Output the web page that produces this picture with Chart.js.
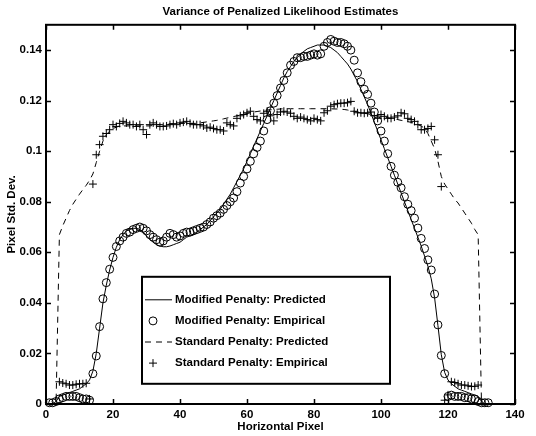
<!DOCTYPE html>
<html>
<head>
<meta charset="utf-8">
<script src="https://cdn.jsdelivr.net/npm/chart.js@4.4.1/dist/chart.umd.min.js"></script>
<style>
html,body{margin:0;padding:0;background:#fff;}
#wrap{width:536px;height:436px;}
</style>
</head>
<body>
<div id="wrap"><canvas id="c" width="536" height="436"></canvas></div>
<script>
// ---- data ----
const chartTitle = 'Variance of Penalized Likelihood Estimates';
const xTitle = 'Horizontal Pixel';
const yTitle = 'Pixel Std. Dev.';
const xTicks = [0, 20, 40, 60, 80, 100, 120, 140];
const yTicks = [0, 0.02, 0.04, 0.06, 0.08, 0.1, 0.12, 0.14];
const yTickLabels = ['0', '0.02', '0.04', '0.06', '0.08', '0.1', '0.12', '0.14'];
const seriesNames = ['Modified Penalty: Predicted', 'Modified Penalty: Empirical',
                     'Standard Penalty: Predicted', 'Standard Penalty: Empirical'];
const firstPixel = 1, pixelCount = 132;

const modPred = [
0.000,0.000,0.001,0.003,0.0035,0.004,0.0045,0.005,0.0055,0.006,
0.007,0.008,0.0095,0.013,0.020,0.030,0.040,0.047,0.053,0.058,
0.062,0.065,0.067,0.0685,0.069,0.0695,0.0695,0.069,0.068,0.0665,
0.065,0.064,0.063,0.0625,0.0622,0.0622,0.0625,0.063,0.0635,0.064,
0.065,0.066,0.0665,0.067,0.068,0.069,0.070,0.071,0.0725,0.074,
0.0755,0.077,0.079,0.081,0.083,0.0855,0.088,0.0905,0.093,0.096,
0.099,0.102,0.105,0.108,0.111,0.114,0.117,0.120,0.123,0.126,
0.129,0.1315,0.1335,0.1355,0.137,0.1385,0.1395,0.1405,0.141,0.1415,
0.142,0.142,0.142,0.1415,0.141,0.140,0.139,0.1375,0.136,0.1345,
0.1325,0.130,0.1275,0.1245,0.1215,0.1185,0.115,0.1115,0.108,0.1045,
0.101,0.0975,0.094,0.0905,0.087,0.0835,0.080,0.0765,0.073,0.0695,
0.066,0.0625,0.0585,0.0545,0.0495,0.042,0.031,0.0195,0.0125,0.0095,
0.008,0.007,0.006,0.0055,0.005,0.0045,0.004,0.0035,0.003,0.001,
0.000,0.000];

const modEmp = [
0.0005,0.0005,0.001,0.002,0.0025,0.003,0.003,0.003,0.003,0.0025,
0.002,0.002,0.0015,0.012,0.019,0.0306,0.0416,0.048,0.0533,0.058,
0.0623,0.0645,0.066,0.0675,0.068,0.069,0.0695,0.070,0.0695,0.0685,
0.067,0.066,0.065,0.064,0.0645,0.066,0.0675,0.067,0.066,0.0665,
0.0675,0.068,0.068,0.0685,0.069,0.0695,0.070,0.071,0.072,0.0735,
0.0745,0.0755,0.077,0.0785,0.080,0.0815,0.084,0.0874,0.090,0.093,
0.096,0.099,0.1015,0.104,0.108,0.1125,0.116,0.119,0.122,0.125,
0.128,0.131,0.134,0.1355,0.137,0.137,0.1375,0.1375,0.138,0.1385,
0.138,0.1385,0.1415,0.143,0.1442,0.1435,0.143,0.143,0.1425,0.1415,
0.140,0.136,0.131,0.1275,0.1245,0.1225,0.119,0.1155,0.112,0.108,
0.104,0.099,0.094,0.0905,0.0877,0.0855,0.082,0.079,0.0765,0.0735,
0.0696,0.0655,0.0615,0.057,0.053,0.0435,0.0313,0.0192,0.012,0.003,
0.0035,0.003,0.003,0.003,0.0025,0.0025,0.002,0.002,0.001,0.0005,
0.0005,0.0005];

const stdPred = [
0,0,0,0.067,0.0705,0.0735,0.0765,0.079,0.081,0.083,
0.0848,0.0865,0.0885,0.091,0.0955,0.100,0.104,0.1065,0.108,0.109,
0.1095,0.110,0.110,0.110,0.110,0.110,0.110,0.110,0.110,0.110,
0.110,0.1102,0.1104,0.1105,0.1105,0.1106,0.1107,0.1108,0.1109,0.111,
0.111,0.111,0.111,0.111,0.111,0.1112,0.1114,0.1116,0.1118,0.112,
0.1122,0.1125,0.1128,0.1131,0.1134,0.1137,0.114,0.1143,0.1146,0.1149,
0.1152,0.1155,0.1157,0.1159,0.1161,0.1163,0.1164,0.1165,0.1166,0.1167,
0.1168,0.1168,0.1168,0.1168,0.1168,0.1168,0.1168,0.1168,0.1168,0.1168,
0.1168,0.1168,0.1168,0.1168,0.1168,0.1167,0.1167,0.1166,0.1165,0.1163,
0.116,0.1158,0.1155,0.1152,0.115,0.1148,0.1145,0.1142,0.114,0.1138,
0.1135,0.1133,0.113,0.1128,0.1125,0.1122,0.112,0.1117,0.1114,0.111,
0.1105,0.110,0.109,0.107,0.104,0.101,0.096,0.090,0.087,0.085,
0.083,0.081,0.0795,0.0775,0.0755,0.0735,0.0715,0.069,0.067,0,
0,0];

const stdEmp = [
null,null,null,0.0088,0.0083,0.008,0.0075,0.0075,0.0078,0.008,
0.008,0.0082,0.002,0.087,0.0986,0.1026,0.1059,0.107,0.1085,0.1105,
0.1098,0.111,0.1118,0.1112,0.1105,0.1105,0.1098,0.1105,0.1085,0.1066,
0.1105,0.1112,0.1105,0.1098,0.1098,0.110,0.1105,0.1109,0.1105,0.1112,
0.1115,0.1118,0.111,0.1105,0.1105,0.1105,0.110,0.1092,0.1095,0.109,
0.1085,0.1085,0.108,0.1112,0.1105,0.110,0.113,0.114,0.1145,0.1152,
0.1158,0.1138,0.1125,0.112,0.115,0.1158,0.114,0.112,0.1145,0.1155,
0.1158,0.1155,0.115,0.1138,0.113,0.1135,0.113,0.1125,0.112,0.113,
0.1125,0.112,0.1152,0.116,0.1178,0.1184,0.1188,0.119,0.119,0.1192,
0.1197,0.1158,0.1152,0.1152,0.115,0.1152,0.1155,0.114,0.113,0.1145,
0.1138,0.113,0.113,0.1135,0.114,0.1152,0.1148,0.113,0.1125,0.1118,
0.1105,0.1085,0.1085,0.109,0.1098,0.1045,0.0986,0.086,0.0015,0.0036,
0.0088,0.0085,0.008,0.0075,0.0075,0.0072,0.0069,0.007,0.0075,null,
null,null];

// ---- build chart ----
const pixels = Array.from({length: pixelCount}, (_, i) => firstPixel + i);
const toPts = vals => pixels.map((p, i) => ({x: p, y: vals[i]})).filter(d => d.y !== null);

const FONT = 'Liberation Sans, Arial, Helvetica, sans-serif';
const font = {family: FONT, size: 11.5, weight: 'bold'};

const framePlugin = {
  id: 'frame',
  afterDatasetsDraw(chart) {
    const {ctx, chartArea: a, scales} = chart;
    ctx.save();
    ctx.strokeStyle = '#000';
    // ticks (inward, all four sides)
    ctx.lineWidth = 1.5;
    const tl = 5;
    ctx.beginPath();
    xTicks.forEach(v => {
      const px = Math.round(scales.x.getPixelForValue(v)) + 0.5;
      ctx.moveTo(px, a.bottom); ctx.lineTo(px, a.bottom - tl);
      ctx.moveTo(px, a.top); ctx.lineTo(px, a.top + tl);
    });
    yTicks.forEach(v => {
      const py = Math.round(scales.y.getPixelForValue(v)) + 0.5;
      ctx.moveTo(a.left, py); ctx.lineTo(a.left + tl, py);
      ctx.moveTo(a.right, py); ctx.lineTo(a.right - tl, py);
    });
    ctx.stroke();
    // frame
    ctx.lineWidth = 2;
    ctx.strokeRect(a.left, a.top, a.right - a.left, a.bottom - a.top);

    // legend box
    const lx = a.left + 96, ly = a.top + 252, lw = 248, lh = 107;
    ctx.fillStyle = '#fff';
    ctx.fillRect(lx, ly, lw, lh);
    ctx.lineWidth = 2;
    ctx.strokeRect(lx, ly, lw, lh);
    ctx.font = 'bold 11.5px ' + FONT;
    ctx.textBaseline = 'middle';
    ctx.textAlign = 'left';
    chart.data.datasets.forEach((ds, i) => {
      const cy = ly + 23 + i * 21.1;
      const sx0 = lx + 3, sx1 = lx + 30, mx = lx + 11;
      ctx.strokeStyle = '#000';
      ctx.lineWidth = 1;
      if (ds.showLine !== false) {
        ctx.setLineDash(ds.borderDash || []);
        ctx.beginPath();
        ctx.moveTo(sx0, cy); ctx.lineTo(sx1, cy);
        ctx.stroke();
        ctx.setLineDash([]);
      } else if (ds.pointStyle === 'circle') {
        ctx.beginPath();
        ctx.arc(mx, cy, ds.pointRadius, 0, Math.PI * 2);
        ctx.stroke();
      } else {
        const r = ds.pointRadius;
        ctx.beginPath();
        ctx.moveTo(mx - r, cy); ctx.lineTo(mx + r, cy);
        ctx.moveTo(mx, cy - r); ctx.lineTo(mx, cy + r);
        ctx.stroke();
      }
      ctx.fillStyle = '#000';
      ctx.fillText(ds.label, lx + 33, cy);
    });
    ctx.restore();
  }
};

new Chart(document.getElementById('c'), {
  type: 'line',
  data: {
    datasets: [
      {label: seriesNames[0], data: toPts(modPred), borderColor: '#000', borderWidth: 1,
       pointRadius: 0, tension: 0, fill: false},
      {label: seriesNames[1], data: toPts(modEmp), showLine: false, pointStyle: 'circle',
       pointRadius: 4, pointBorderWidth: 1, borderColor: '#000', backgroundColor: 'rgba(0,0,0,0)',
       pointBackgroundColor: 'rgba(0,0,0,0)', pointBorderColor: '#000', clip: false},
      {label: seriesNames[2], data: toPts(stdPred), borderColor: '#000', borderWidth: 1,
       borderDash: [6, 5], pointRadius: 0, tension: 0, fill: false},
      {label: seriesNames[3], data: toPts(stdEmp), showLine: false, pointStyle: 'cross',
       pointRadius: 4, pointBorderWidth: 1, borderColor: '#000', pointBorderColor: '#000', clip: false}
    ]
  },
  options: {
    responsive: false,
    animation: false,
    devicePixelRatio: 1,
    layout: {padding: {left: 0, right: 21, top: 0, bottom: 0}},
    plugins: {
      legend: {display: false},
      tooltip: {enabled: false},
      title: {display: true, text: chartTitle, color: '#000', font: font,
              fullSize: false, padding: {top: 5, bottom: 6}}
    },
    scales: {
      x: {
        type: 'linear', min: 0, max: 140,
        afterBuildTicks: s => { s.ticks = xTicks.map(v => ({value: v})); },
        afterFit: s => { s.height = 32; },
        grid: {display: false, drawTicks: false},
        border: {display: false},
        ticks: {color: '#000', font: font, padding: 4, maxRotation: 0,
                callback: v => String(v)},
        title: {display: true, text: xTitle, color: '#000', font: font,
                padding: {top: 0, bottom: 2}}
      },
      y: {
        type: 'linear', min: 0, max: 0.15,
        afterBuildTicks: s => { s.ticks = yTicks.map(v => ({value: v})); },
        afterFit: s => { s.width = 46; },
        grid: {display: false, drawTicks: false},
        border: {display: false},
        ticks: {color: '#000', font: font, padding: 4,
                callback: v => yTickLabels[yTicks.indexOf(v)] ?? ''},
        title: {display: true, text: yTitle, color: '#000', font: font,
                padding: {top: 5, bottom: 0}}
      }
    }
  },
  plugins: [framePlugin]
});
</script>
</body>
</html>
